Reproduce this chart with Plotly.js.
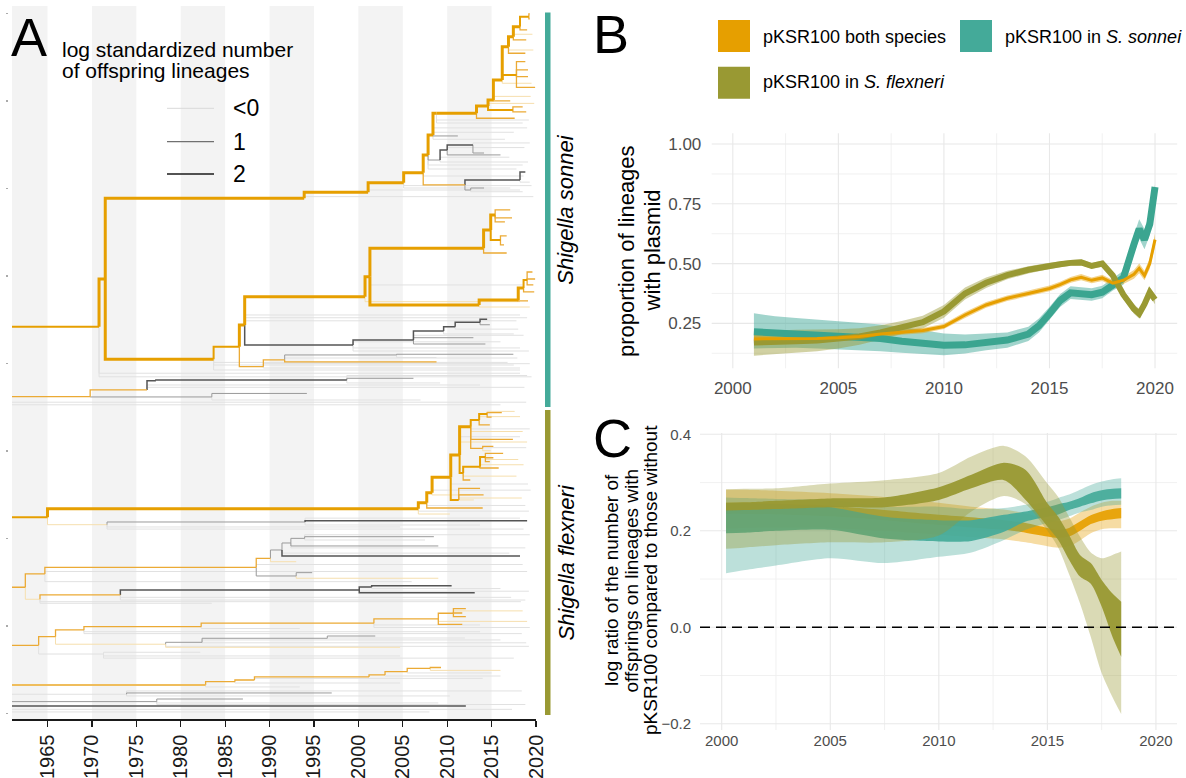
<!DOCTYPE html>
<html><head><meta charset="utf-8">
<script src="https://cdn.plot.ly/plotly-3.0.1.min.js"></script>
<style>html,body{margin:0;padding:0;background:#fff;}#chart{width:1186px;height:778px;}</style>
</head><body><div id="chart"></div>
<script>
// ================= DATA =================
// ---- Panel A: dated phylogeny (years, tip index) ----
const treeYearRange = [1961, 2020];
const treeTipRange = [-6.9, 808.3];
const treeTickYears = [1965,1970,1975,1980,1985,1990,1995,2000,2005,2010,2015,2020];
const tipTicks = [0,100,200,300,400,500,600,700,800];
const bandStarts = [1961,1970,1980,1990,2000,2010];
const bandEnds   = [1965,1975,1985,1995,2005,2015];
const speciesNames = ['Shigella sonnei','Shigella flexneri'];
const speciesTipLo = [350, -2];
const speciesTipHi = [801, 346.6];
const offspringLegend = ['<0','1','2'];
// [node, parent, year, tip, class]
const treeNodes = [
 ['A',null,1970.8,441.8,'o2'],['B','A',1971.5,496.3,'o3'],['Af','A',2018.2,388.6,'g'],['Af2','A',2019.5,384.5,'g'],
 ['C','B',1993.9,588.6,'o3'],['D','B',1983.7,404.6,'o3'],['Cf','C',2019.7,590.4,'g'],
 ['C1','C',2001.1,595.4,'o3'],['C1f','C1',2018.2,598.0,'g'],['C2','C1',2005.1,606.4,'o3'],
 ['C2f','C2',2017.1,600.3,'g'],['C2f3','C2',2019.5,603.0,'g'],['C3','C2',2007.3,617.8,'o3'],['C3f2','C3',2018.6,614.0,'g'],
 ['C4','C3',2007.85,638.1,'o3'],['C4f2','C4',2017.8,622.0,'g'],
 ['C5','C3',2012.0,603.8,'o1'],['C5a','C5',2018.2,609.5,'k2'],['C5a1','C5a',2018.8,618.6,'k2'],
 ['C5a2','C5a',2019.3,607.0,'g'],['C5b','C5',2012.65,598.0,'k1'],['C5b1','C5b',2014.15,600.3,'k1'],
 ['C5b2','C5b',2018.5,596.0,'g'],
 ['C6','C4',2008.4,660.9,'o3'],['G1','C4',2009.2,632.3,'k1'],['C4f','C4',2018.5,626.6,'g'],
 ['G2','G1',2010.0,643.8,'k2'],['G1t','G1',2019.1,630.0,'g'],['G1f','G1',2017.0,635.5,'g'],['G3','G2',2012.9,649.5,'k2'],
 ['G2t','G2',2016.0,638.1,'k1'],['G2f','G2',2018.7,646.5,'g'],['G3a','G3',2014.15,640.3,'k1'],['G3b','G3',2019.3,651.8,'g'],
 ['C7','C6',2008.8,685.7,'o3'],['C6k','C6',2011.2,659.8,'k1'],['C6f','C6',2019.0,669.0,'g'],
 ['C6f2','C6',2017.5,664.0,'g'],['C6f3','C6',2016.5,656.0,'g'],
 ['C8','C7',2013.3,685.7,'o3'],['C7f','C7',2018.5,674.6,'g'],['C7f2','C7',2019.2,678.0,'g'],['C9','C8',2014.6,694.1,'o3'],
 ['C8o','C8',2017.6,680.0,'o1'],['C10','C9',2015.2,700.9,'o3'],['C9o','C9',2017.4,689.5,'o2'],
 ['C9o1','C9o',2018.5,692.9,'o1'],['C9o2','C9o',2018.9,687.2,'o1'],['C11','C10',2016.2,723.8,'o3'],
 ['C10o','C10',2017.1,699.8,'o1'],['C12','C11',2016.9,761.8,'o3'],['C11o','C11',2017.8,729.5,'o2'],
 ['C11o1','C11o',2018.8,744.7,'o1'],['C11o2','C11o',2019.1,735.2,'o1'],['C11o3','C11o',2019.1,727.6,'o1'],
 ['C11o4','C11o',2019.9,715.4,'o1'],['C13','C12',2017.45,773.3,'o3'],['C12o','C12',2018.8,754.3,'o1'],
 ['C14','C13',2018.2,784.7,'o3'],['C13o','C13',2018.9,769.5,'o1'],['C15','C14',2019.2,796.1,'o2'],
 ['C14o','C14',2019.0,780.9,'o1'],['C15a','C15',2019.3,799.2,'o1'],['C15b','C15',2019.3,793.5,'o1'],
 ['C13f','C13',2019.6,776.0,'ol'],['C12f','C12',2019.7,758.0,'ol'],['C11f','C11',2019.5,720.0,'ol'],
 ['C10f','C10',2019.4,705.0,'ol'],['C9f','C9',2019.8,697.0,'ol'],
 ['E','D',1986.6,418.9,'o2'],['Df','D',2018.2,392.3,'g'],['Df2','D',2017.5,398.0,'g'],['Df3','D',2016.8,401.0,'g'],
 ['F','E',1987.2,443.8,'o3'],['Gs','E',1989.3,396.1,'o1'],
 ['H','F',2000.75,476.1,'o3'],['I','F',1999.4,420.9,'k2'],['Ff','F',2018.2,455.2,'g'],['Ff2','F',2019.0,452.0,'g'],
 ['Ff3','F',2017.8,448.5,'g'],
 ['H1','H',2001.3,499.0,'o3'],['Hf','H',2018.2,470.4,'ol'],
 ['J','H1',2014.1,531.4,'o3'],['K','H1',2013.6,466.6,'o3'],['H1f','H1',2018.5,489.5,'g'],
 ['J1','J',2014.9,552.3,'o3'],['Jt','J',2016.7,526.0,'o1'],['J2','J1',2015.4,569.5,'o3'],
 ['J3','J1',2016.0,540.9,'o2'],['J2a','J2',2017.1,575.2,'o1'],['J2b','J2',2017.3,566.1,'o1'],
 ['J2c','J2',2016.5,561.5,'o1'],['J3a','J3',2016.7,545.5,'o1'],['J3b','J3',2016.4,535.2,'o1'],
 ['K1','K',2018.0,472.3,'o3'],['Kf','K',2019.3,464.3,'ol'],['K2','K1',2018.6,486.0,'o3'],
 ['K1t','K1',2019.1,471.2,'o1'],['K3','K2',2019.0,495.2,'o2'],['K2t','K2',2019.8,481.5,'o1'],
 ['K3a','K3',2019.6,504.3,'o1'],['K3b','K3',2019.9,496.3,'o1'],['K3c','K3',2019.7,489.5,'o1'],
 ['I1','I',2006.2,426.6,'k2'],['If','I',2018.2,417.5,'g'],['If2','I',2019.2,414.0,'g'],['If3','I',2016.0,424.5,'g'],
 ['I2','I1',2009.6,436.9,'k2'],['I1b','I1',2012.95,429.2,'k1'],['I1c','I1',2014.3,422.0,'k1'],['I1f','I1',2018.6,432.0,'g'],
 ['I3','I2',2010.9,441.8,'k2'],['I2f','I2',2017.5,433.5,'g'],['I4','I3',2013.7,446.9,'k2'],
 ['I3f','I3',2018.0,439.0,'g'],['I4a','I4',2014.5,450.3,'k2'],['I4b','I4',2014.8,444.0,'k1'],
 ['GA','Gs',1991.7,403.8,'o1'],['Gf','Gs',2018.2,394.6,'g'],['Gf2','Gs',2019.3,399.5,'g'],['GB','GA',2004.3,409.5,'k1'],
 ['GC','GA',2008.8,401.5,'o1'],['GAf','GA',2017.9,406.0,'g'],['GB1','GB',2017.45,410.3,'k1'],['GB2','GB',2008.8,406.6,'g'],
 ['L',null,1969.8,361.8,'o1'],['L1','L',1976.2,369.5,'o1'],['L2','L',1983.5,361.5,'k1'],
 ['L3','L1',1977.2,380.1,'k2'],['L1t','L1',2013.7,375.2,'g'],['L1t2','L1',2018.7,372.5,'g'],['L4','L3',1998.7,380.9,'k2'],
 ['L4a','L4',2006.2,382.8,'k1'],['L4b','L4',2009.2,377.5,'g'],['L4f','L4',2019.0,386.0,'g'],['L2a','L2',1994.2,365.5,'k1'],
 ['L2b','L2',2007.0,358.0,'g'],['Z1',null,2016.0,352.5,'g'],['Z2',null,2018.9,355.5,'g'],
 ['P',null,1965.0,224.0,'o2'],['P1','P',2006.75,233.8,'o3'],['P2','P',1971.7,215.5,'ol'],
 ['P3','P2',1994.0,218.6,'k1'],['P2f','P2',2004.7,212.9,'g'],['P2f2','P2',2018.6,210.5,'g'],['P3a','P3',2019.0,220.1,'k2'],
 ['P3b','P3',2013.7,215.2,'g'],['P3c','P3',2018.2,223.0,'g'],['P4','P1',2007.7,240.7,'o3'],['P1f','P1',2010.3,227.7,'ol'],
 ['P1f2','P1',2019.2,231.0,'g'],['P4f','P4',2018.8,237.5,'g'],
 ['P5','P4',2008.3,252.1,'o3'],['P4t','P4',2014.0,234.6,'o1'],['P6','P5',2010.4,269.7,'o3'],
 ['P5f','P5',2012.6,249.5,'ol'],['P5f2','P5',2019.4,255.0,'g'],['P6f','P6',2019.1,262.0,'g'],
 ['P7','P6',2011.4,295.2,'o3'],['P8','P6',2011.3,243.8,'o2'],
 ['P8a','P8',2013.7,257.1,'o1'],['P8b','P8',2014.1,249.5,'o1'],['P8c','P8',2013.0,243.8,'ol'],
 ['P9','P7',2012.65,327.5,'o3'],['P10','P7',2011.8,274.6,'o2'],['P11','P9',2013.6,335.2,'o2'],
 ['P9t','P9',2017.4,313.1,'o1'],['P12','P9',2014.0,302.8,'o1'],['P12a','P12',2015.2,305.0,'o1'],
 ['P12b','P12',2014.9,300.0,'ol'],['P12f','P12',2018.9,303.5,'g'],['P13','P11',2014.5,342.0,'o2'],['P11t','P11',2014.8,329.5,'o1'],
 ['P13a','P13',2016.15,343.5,'o1'],['P13b','P13',2015.0,338.5,'o1'],['P14','P10',2013.7,281.8,'o2'],
 ['P10t','P10',2012.6,266.6,'o1'],['P15','P14',2014.3,292.9,'o2'],['P14t','P14',2015.8,280.3,'o1'],
 ['P15a','P15',2016.3,297.1,'o1'],['P15b','P15',2015.2,292.0,'o1'],['P15c','P15',2014.8,287.5,'o1'],
 ['P9f','P9',2018.5,322.0,'ol'],['P9f2','P9',2019.3,325.0,'g'],['P11f','P11',2018.2,339.0,'ol'],['P15f','P15',2018.0,290.0,'ol'],
 ['P14f','P14',2018.6,284.0,'ol'],['P10f','P10',2017.8,271.0,'ol'],['P8f','P8',2018.4,246.0,'ol'],
 ['P7f','P7',2019.0,310.0,'ol'],['P7f2','P7',2018.2,316.0,'g'],['P13f','P13',2017.6,345.0,'ol'],
 ['Q',null,1962.5,144.0,'o1'],['Q1','Q',1964.7,159.2,'o1'],['Q2','Q',1964.15,130.3,'ol'],
 ['Q3','Q1',1988.5,166.8,'o1'],['Q1f','Q1',2006.0,150.4,'g'],['Q1f2','Q1',2019.0,162.0,'g'],
 ['Q4','Q3',1990.1,177.1,'o1'],['Q5','Q3',1993.0,156.9,'k1'],['Q3f','Q3',2018.5,170.0,'g'],
 ['Q6','Q4',1991.4,186.6,'k1'],['Q4t','Q4',1993.0,173.2,'ol'],['Q8','Q6',1992.4,194.6,'k1'],
 ['Q6t','Q6',2018.2,179.8,'k2'],['Q6f','Q6',2017.0,183.0,'g'],['Q9','Q8',1993.95,199.9,'k1'],
 ['Q8t','Q8',2009.0,191.2,'k1'],['Q8f','Q8',2018.8,189.0,'g'],['Q9a','Q9',2008.5,201.8,'k1'],
 ['Q9b','Q9',2007.5,198.0,'g'],['Q9f','Q9',2019.3,204.0,'g'],['Q5a','Q5',1994.8,160.7,'k1'],
 ['Q5b','Q5',2009.0,154.3,'ol'],['Q10','Q2',1973.2,135.2,'o1'],['Q2f','Q2',1983.5,125.7,'g'],['Q2f2','Q2',2018.3,127.5,'g'],
 ['Q11','Q10',2000.1,140.9,'k2'],['Q10f','Q10',2018.8,129.4,'g'],['Q10f2','Q10',2017.2,132.5,'g'],['Q12','Q11',2001.5,144.3,'k2'],
 ['Q11t','Q11',2013.1,137.8,'k2'],['Q11f','Q11',2019.2,139.5,'g'],['Q12a','Q12',2010.5,145.8,'k2'],['Q12b','Q12',2016.0,142.5,'g'],
 ['R',null,1964.0,77.7,'o1'],['R1','R',1965.9,87.5,'o1'],['R2','R',1971.3,67.7,'g'],
 ['R3','R1',1969.1,95.2,'o1'],['R4','R1',1978.3,78.9,'ol'],['R5','R3',1982.3,99.0,'o1'],
 ['R3f','R3',2013.7,93.2,'g'],['R3f2','R3',2018.4,91.0,'g'],['R6','R5',2001.75,102.9,'o1'],['R5f','R5',1993.4,96.9,'g'],
 ['R7','R6',2009.0,107.8,'o1'],['R6f','R6',2013.7,100.9,'g'],['R6f2','R6',2019.3,98.0,'g'],
 ['R8','R7',2010.7,114.3,'o1'],['R7t','R7',2011.7,101.7,'o1'],['R7f','R7',2019.0,105.0,'ol'],
 ['R8a','R8',2012.1,119.5,'o1'],['R8b','R8',2011.7,114.6,'o1'],['R8c','R8',2012.1,110.4,'o1'],
 ['R8f','R8',2018.5,117.0,'ol'],['R9','R4',1982.4,81.1,'k1'],['R4t','R4',2004.7,75.4,'ol'],['R4f','R4',2019.2,76.5,'g'],
 ['R10','R9',1996.5,85.7,'k1'],['R9t','R9',2016.0,83.8,'g'],['R9f','R9',2018.9,80.5,'g'],['R10a','R10',2001.9,88.3,'k1'],
 ['R10b','R10',2012.0,86.0,'g'],['R2a','R2',1982.2,69.7,'g'],['R2b','R2',2004.7,65.5,'g'],['R2c','R2',2017.5,63.0,'g'],
 ['S',null,1982.8,32.3,'om'],['S1','S',1986.1,36.1,'o1'],['Sf','S',1993.4,30.1,'g'],
 ['S2','S1',1988.3,38.0,'o1'],['S1f','S1',2004.7,34.6,'g'],['S3','S2',2001.2,41.5,'o1'],
 ['S2f','S2',2014.0,39.9,'g'],['S4','S3',2003.0,43.8,'o1'],['S5','S4',2005.5,47.5,'o1'],
 ['S4f','S4',2016.0,42.6,'g'],['S6','S5',2008.1,51.4,'o1'],['S5f','S5',2015.0,46.1,'g'],
 ['S6a','S6',2009.3,52.3,'o1'],['S6b','S6',2016.0,49.0,'ol'],
 ['T1',null,1973.9,21.7,'g'],['T1a','T1',1997.0,23.2,'k1'],['T1b','T1',2010.3,19.8,'g'],['T1c','T1',2018.4,25.5,'g'],
 ['T2',null,1977.3,13.3,'k1'],['T2a','T2',1987.0,16.3,'k1'],['T2b','T2',2009.0,11.8,'g'],['T2c','T2',2018.8,10.0,'g'],
 ['T3',null,2012.1,8.3,'k2'],['T4',null,2008.0,1.5,'g'],['T5',null,2017.3,4.5,'g']
];

// ---- Panel B: proportion of lineages with plasmid ----
const bYear = [2001,2002,2003,2004,2005,2006,2007,2008,2009,2010,2011,2012,2013,2014,2014.5,2015,2015.5,2016,2016.5,2017,2017.5,2018,2018.5,2019,2019.25,2019.5,2019.75,2020];
const bBoth   = [0.185,0.185,0.186,0.187,0.19,0.195,0.205,0.213,0.22,0.237,0.285,0.327,0.355,0.375,0.385,0.396,0.412,0.432,0.443,0.43,0.44,0.418,0.43,0.455,0.48,0.45,0.5,0.6];
const bBothLo = [0.168,0.17,0.172,0.174,0.177,0.183,0.193,0.202,0.209,0.226,0.272,0.315,0.343,0.363,0.373,0.384,0.4,0.42,0.43,0.418,0.427,0.405,0.415,0.437,0.46,0.43,0.478,0.575];
const bBothHi = [0.202,0.2,0.2,0.2,0.203,0.207,0.217,0.224,0.231,0.248,0.298,0.339,0.367,0.387,0.397,0.408,0.424,0.444,0.456,0.442,0.453,0.431,0.445,0.473,0.5,0.47,0.522,0.625];
const bFlex   = [0.17,0.17,0.175,0.178,0.185,0.195,0.212,0.232,0.255,0.3,0.375,0.42,0.452,0.474,0.483,0.49,0.497,0.503,0.505,0.49,0.5,0.45,0.37,0.31,0.29,0.33,0.38,0.35];
const bFlexLo = [0.115,0.12,0.127,0.133,0.145,0.16,0.182,0.204,0.228,0.273,0.35,0.398,0.434,0.459,0.469,0.477,0.485,0.491,0.493,0.478,0.487,0.435,0.352,0.29,0.27,0.31,0.36,0.33];
const bFlexHi = [0.225,0.22,0.223,0.223,0.225,0.23,0.242,0.26,0.282,0.327,0.4,0.442,0.47,0.489,0.497,0.503,0.509,0.515,0.517,0.502,0.513,0.465,0.388,0.33,0.31,0.35,0.4,0.37];
const bSon    = [0.215,0.21,0.21,0.205,0.2,0.195,0.187,0.175,0.165,0.158,0.16,0.172,0.18,0.205,0.24,0.29,0.345,0.378,0.375,0.37,0.38,0.412,0.44,0.58,0.645,0.6,0.665,0.82];
const bSonLo  = [0.145,0.148,0.148,0.145,0.142,0.138,0.133,0.127,0.122,0.117,0.124,0.138,0.148,0.176,0.212,0.263,0.318,0.352,0.35,0.345,0.355,0.387,0.412,0.545,0.605,0.56,0.62,0.77];
const bSonHi  = [0.292,0.28,0.272,0.266,0.26,0.252,0.245,0.235,0.222,0.208,0.203,0.208,0.212,0.236,0.27,0.318,0.372,0.405,0.402,0.397,0.407,0.438,0.47,0.62,0.685,0.645,0.71,0.83];
const bTickYears = [2000,2005,2010,2015,2020];
const bMinorYears = [2002.5,2007.5,2012.5,2017.5];
const bTickVals = [0.25,0.5,0.75,1.0];
const bTickText = ['0.25','0.50','0.75','1.00'];
const bMinorVals = [0.125,0.375,0.625,0.875];
const seriesNames = ['pKSR100 both species','pKSR100 in <i>S. sonnei</i>','pKSR100 in <i>S. flexneri</i>'];

// ---- Panel C: log ratio of offspring numbers ----
const cYear = [2000.2,2001,2002.5,2005,2007.5,2010,2011.5,2013,2014,2015,2015.5,2016,2016.5,2017,2017.5,2018,2018.4];
const cFlexInLo  = [0.242,0.243,0.245,0.249,0.249,0.264,0.288,0.305,0.264,0.209,0.181,0.14,0.105,0.09,0.043,-0.02,-0.061];
const cFlexInHi  = [0.258,0.259,0.262,0.267,0.269,0.29,0.316,0.341,0.326,0.257,0.229,0.191,0.15,0.133,0.098,0.07,0.053];
const cFlexOutLo = [0.163,0.165,0.17,0.176,0.176,0.19,0.24,0.272,0.255,0.2,0.165,0.11,0.05,-0.02,-0.095,-0.145,-0.18];
const cFlexOutHi = [0.286,0.287,0.288,0.298,0.305,0.32,0.354,0.376,0.354,0.298,0.27,0.229,0.188,0.155,0.143,0.15,0.157];
const cSonInLo   = [0.195,0.196,0.2,0.202,0.184,0.178,0.179,0.198,0.219,0.229,0.234,0.243,0.25,0.257,0.263,0.266,0.267];
const cSonInHi   = [0.257,0.257,0.255,0.249,0.229,0.222,0.222,0.233,0.24,0.249,0.255,0.26,0.268,0.278,0.284,0.287,0.288];
const cSonOutLo  = [0.112,0.118,0.128,0.143,0.133,0.146,0.155,0.181,0.202,0.216,0.222,0.23,0.238,0.243,0.25,0.253,0.254];
const cSonOutHi  = [0.269,0.268,0.266,0.264,0.25,0.25,0.245,0.247,0.254,0.26,0.268,0.275,0.285,0.295,0.302,0.307,0.309];
const cBothInLo  = [0.235,0.235,0.234,0.23,0.222,0.212,0.207,0.202,0.196,0.188,0.185,0.188,0.2,0.214,0.221,0.224,0.226];
const cBothInHi  = [0.258,0.258,0.256,0.252,0.243,0.233,0.228,0.222,0.216,0.206,0.202,0.206,0.219,0.232,0.24,0.245,0.247];
const cBothOutLo = [0.205,0.206,0.207,0.206,0.2,0.192,0.187,0.182,0.176,0.168,0.165,0.168,0.18,0.195,0.203,0.205,0.205];
const cBothOutHi = [0.285,0.285,0.283,0.278,0.27,0.258,0.25,0.244,0.236,0.224,0.22,0.225,0.238,0.25,0.258,0.262,0.262];
const cTickYears = [2000,2005,2010,2015,2020];
const cMinorYears = [2002.5,2007.5,2012.5,2017.5];
const cTickVals = [-0.2,0,0.2,0.4];
const cTickText = ['\u22120.2','0.0','0.2','0.4'];
const cMinorVals = [-0.1,0.1,0.3];
const cReference = 0;

// ================= STYLE / BUILD =================
const W = 1186, H = 778;
const px = v => v / W, py = v => 1 - v / H;
const ORANGE = '#E69F00', TEAL = '#44AA99', OLIVE = '#999933';
const rgba = (hex, a) => { const n = parseInt(hex.slice(1), 16); return `rgba(${n>>16},${(n>>8)&255},${n&255},${a})`; };
const FONT = 'Liberation Sans, Arial, Helvetica, sans-serif';

const classOrder = ['g','ol','k1','k2','o1','om','o2','o3'];
const classStyle = {
  g:{color:'#e1e1e1',width:1}, ol:{color:'#f6dfae',width:1}, k1:{color:'#9a9a9a',width:1},
  k2:{color:'#555555',width:1.5}, o1:{color:'#ebaa35',width:1.3}, om:{color:'#efbd5c',width:2.2},
  o2:{color:ORANGE,width:2}, o3:{color:ORANGE,width:3}
};
const nodeByName = {};
treeNodes.forEach(n => { nodeByName[n[0]] = n; });
const segs = {};
classOrder.forEach(c => segs[c] = {x:[], y:[]});
treeNodes.forEach(([name, parent, year, tip, cls]) => {
  const s = segs[cls];
  if (parent === null) { s.x.push(treeYearRange[0], year, null); s.y.push(tip, tip, null); }
  else { const p = nodeByName[parent]; s.x.push(p[2], p[2], year, null); s.y.push(p[3], tip, tip, null); }
});

const traces = [];
classOrder.forEach(c => traces.push({
  type:'scatter', mode:'lines', x:segs[c].x, y:segs[c].y, xaxis:'x', yaxis:'y',
  line:{color:classStyle[c].color, width:classStyle[c].width}, hoverinfo:'skip', showlegend:false
}));

function band(x, lo, hi, fill, xa, ya, shape) {
  traces.push({type:'scatter', mode:'lines', x:x, y:lo, xaxis:xa, yaxis:ya,
    line:{width:0, shape:shape, smoothing:0.8}, hoverinfo:'skip', showlegend:false});
  traces.push({type:'scatter', mode:'lines', x:x, y:hi, xaxis:xa, yaxis:ya, fill:'tonexty', fillcolor:fill,
    line:{width:0, shape:shape, smoothing:0.8}, hoverinfo:'skip', showlegend:false});
}
function line(x, y, color, width, xa, ya) {
  traces.push({type:'scatter', mode:'lines', x:x, y:y, xaxis:xa, yaxis:ya,
    line:{color:color, width:width}, hoverinfo:'skip', showlegend:false});
}
// Panel B
band(bYear, bSonLo, bSonHi, rgba(TEAL,0.5), 'x2','y2','linear');
band(bYear, bFlexLo, bFlexHi, rgba(OLIVE,0.45), 'x2','y2','linear');
band(bYear, bBothLo, bBothHi, rgba(ORANGE,0.45), 'x2','y2','linear');
line(bYear, bSon, '#3ba590', 7, 'x2','y2');
line(bYear, bFlex, OLIVE, 6, 'x2','y2');
line(bYear, bBoth, ORANGE, 3, 'x2','y2');
// Panel C (each series: outer interval then inner interval; olive drawn last)
band(cYear, cBothOutLo, cBothOutHi, rgba(ORANGE,0.36), 'x3','y3','spline');
band(cYear, cBothInLo, cBothInHi, rgba(ORANGE,0.92), 'x3','y3','spline');
band(cYear, cSonOutLo, cSonOutHi, rgba(TEAL,0.36), 'x3','y3','spline');
band(cYear, cSonInLo, cSonInHi, rgba(TEAL,0.92), 'x3','y3','spline');
band(cYear, cFlexOutLo, cFlexOutHi, rgba(OLIVE,0.36), 'x3','y3','spline');
band(cYear, cFlexInLo, cFlexInHi, rgba(OLIVE,0.95), 'x3','y3','spline');

// shapes
const shapes = [];
bandStarts.forEach((s, i) => shapes.push({type:'rect', xref:'x', yref:'y domain', x0:s, x1:bandEnds[i], y0:0, y1:1,
  fillcolor:'#f3f3f3', line:{width:0}, layer:'below'}));
const gridMajor = '#e8e8e8', gridMinor = '#efefef';
function vgrid(vals, xa, col, w) { vals.forEach(v => shapes.push({type:'line', xref:xa, yref:xa.replace('x','y')+' domain', x0:v, x1:v, y0:0, y1:1, line:{color:col, width:w}, layer:'below'})); }
function hgrid(vals, ya, col, w) { vals.forEach(v => shapes.push({type:'line', xref:ya.replace('y','x')+' domain', yref:ya, x0:0, x1:1, y0:v, y1:v, line:{color:col, width:w}, layer:'below'})); }
vgrid(bMinorYears, 'x2', gridMinor, 0.9); hgrid(bMinorVals, 'y2', gridMinor, 0.9);
vgrid(bTickYears, 'x2', gridMajor, 1.1); hgrid(bTickVals, 'y2', gridMajor, 1.1);
vgrid(cMinorYears, 'x3', gridMinor, 0.9); hgrid(cMinorVals, 'y3', gridMinor, 0.9);
vgrid(cTickYears, 'x3', gridMajor, 1.1); hgrid(cTickVals, 'y3', gridMajor, 1.1);
const speciesColors = [TEAL, OLIVE];
speciesNames.forEach((n, i) => shapes.push({type:'rect', xref:'paper', yref:'y', x0:px(545), x1:px(550.5),
  y0:speciesTipLo[i], y1:speciesTipHi[i], fillcolor:speciesColors[i], line:{width:0}}));
const legLineY = [108.3, 141.7, 174];
const legLineStyle = [{c:'#d9d9d9',w:1},{c:'#707070',w:1.2},{c:'#1a1a1a',w:1.5}];
offspringLegend.forEach((t, i) => shapes.push({type:'line', xref:'paper', yref:'paper', x0:px(167), x1:px(214),
  y0:py(legLineY[i]), y1:py(legLineY[i]), line:{color:legLineStyle[i].c, width:legLineStyle[i].w}}));
const legSq = [[718,20],[960,20],[718,66.7]];
const legCol = [ORANGE, TEAL, OLIVE];
legSq.forEach((p, i) => shapes.push({type:'rect', xref:'paper', yref:'paper', x0:px(p[0]), x1:px(p[0]+32),
  y0:py(p[1]+32), y1:py(p[1]), fillcolor:legCol[i], line:{width:0}}));
shapes.push({type:'line', xref:'x3 domain', yref:'y3', x0:0, x1:1, y0:cReference, y1:cReference,
  line:{color:'#000', width:1.6, dash:'10px,6px'}});

// annotations
const ann = [];
const txt = (text, x, y, size, opts) => ann.push(Object.assign({text, x:px(x), y:py(y), xref:'paper', yref:'paper',
  showarrow:false, xanchor:'left', yanchor:'middle', font:{size, color:'#000', family:FONT}}, opts||{}));
txt('A', 9, 37, 54);
txt('log standardized number', 60, 50, 21);
txt('of offspring lineages', 60, 71, 21);
offspringLegend.forEach((t, i) => txt(t.replace('<','&lt;'), 231, legLineY[i], 23));
speciesNames.forEach((n, i) => ann.push({text:'<i>'+n+'</i>', xref:'paper', yref:'y', x:px(566),
  y:(speciesTipLo[i]+speciesTipHi[i])/2, textangle:-90, showarrow:false, xanchor:'center', yanchor:'middle',
  font:{size:22, color:'#000', family:FONT}}));
txt('B', 591, 34, 54);
txt(seriesNames[0], 761, 37, 18);
txt(seriesNames[1], 1003, 37, 18);
txt(seriesNames[2], 761, 82, 18);
txt('proportion of lineages', 626, 251, 22, {textangle:-90, xanchor:'center'});
txt('with plasmid', 651.5, 251, 22, {textangle:-90, xanchor:'center'});
txt('C', 591, 438, 54);
txt('log ratio of the number of', 611, 580, 19, {textangle:-90, xanchor:'center'});
txt('offsprings on lineages with', 630.5, 580, 19, {textangle:-90, xanchor:'center'});
txt('pKSR100 compared to those without', 650, 580, 19, {textangle:-90, xanchor:'center'});

const layout = {
  width:W, height:H, margin:{l:0,r:0,t:0,b:0}, paper_bgcolor:'#fff', plot_bgcolor:'rgba(0,0,0,0)',
  font:{family:FONT, color:'#000'}, showlegend:false,
  xaxis:{domain:[px(12),px(536)], range:treeYearRange, anchor:'y', tickmode:'array', tickvals:treeTickYears,
    tickangle:-90, tickfont:{size:20, color:'#1a1a1a'}, ticks:'outside', ticklen:6, tickwidth:1.2, tickcolor:'#1a1a1a',
    showline:true, linecolor:'#1a1a1a', linewidth:1.2, showgrid:false, zeroline:false, fixedrange:true},
  yaxis:{domain:[py(719.3), py(6)], range:treeTipRange, anchor:'free', position:px(7.5), tickmode:'array', tickvals:tipTicks,
    showticklabels:false, ticks:'outside', ticklen:2, tickwidth:1.5, tickcolor:'#aaaaaa', showgrid:false, zeroline:false, showline:false},
  xaxis2:{domain:[px(711.7),px(1177.2)], range:[1999.0,2021.05], anchor:'y2', tickmode:'array', tickvals:bTickYears,
    tickfont:{size:17,color:'#4d4d4d'}, ticks:'outside', ticklen:4, tickcolor:'rgba(0,0,0,0)',
    showgrid:false, zeroline:false, showline:false},
  yaxis2:{domain:[py(368.3),py(133.3)], range:[0.062,1.045], anchor:'x2', tickmode:'array', tickvals:bTickVals, ticktext:bTickText,
    tickfont:{size:17,color:'#4d4d4d'}, ticks:'outside', ticklen:6, tickcolor:'rgba(0,0,0,0)',
    showgrid:false, zeroline:false, showline:false},
  xaxis3:{domain:[px(700),px(1177)], range:[1999.0,2020.97], anchor:'y3', tickmode:'array', tickvals:cTickYears,
    tickfont:{size:15,color:'#4d4d4d'}, ticks:'',
    showgrid:false, zeroline:false, showline:false},
  yaxis3:{domain:[py(730),py(433)], range:[-0.213,0.4027], anchor:'x3', tickmode:'array', tickvals:cTickVals, ticktext:cTickText,
    tickfont:{size:15,color:'#4d4d4d'}, ticks:'outside', ticklen:5, tickcolor:'rgba(0,0,0,0)',
    showgrid:false, zeroline:false, showline:false},
  shapes:shapes, annotations:ann
};
Plotly.newPlot('chart', traces, layout, {displayModeBar:false, staticPlot:true});
</script></body></html>
